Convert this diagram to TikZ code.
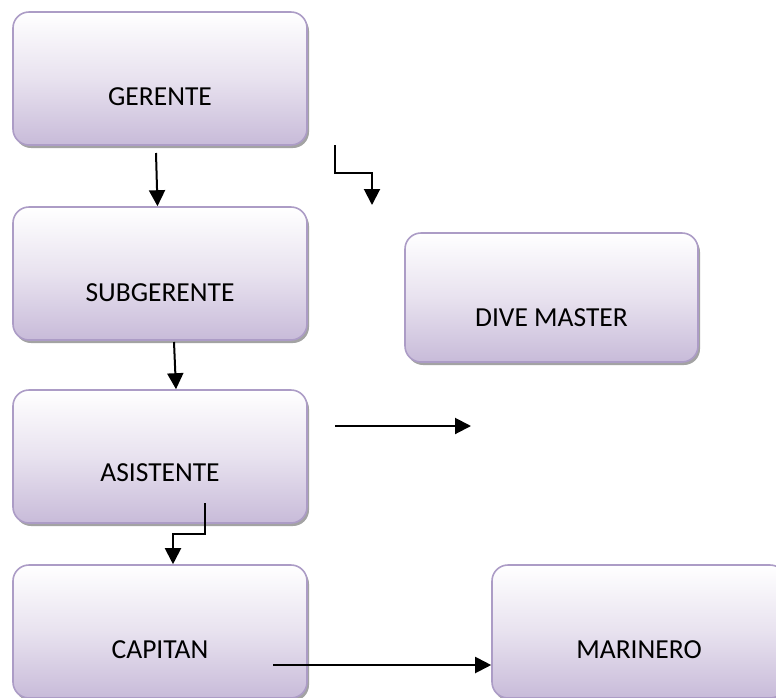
\documentclass[tikz,border=0pt]{standalone}
\usepackage{fontspec}
\setmainfont{Carlito}
\usetikzlibrary{arrows.meta,shadows,calc}
\definecolor{boxline}{HTML}{AC9CC6}
\definecolor{boxlow}{HTML}{C8BBD9}
\definecolor{boxmid}{HTML}{E8E2EF}
\begin{document}
\begin{tikzpicture}[x=1pt,y=-1pt,
  rolebox/.style={draw=boxline, line width=1.6pt, rounded corners=16pt,
    minimum width=294pt, minimum height=133pt, inner sep=0pt,
    top color=white, bottom color=boxlow, middle color=boxmid,
    drop shadow={shadow xshift=2pt, shadow yshift=-3pt, fill=black!45, opacity=0.8}},
  roletext/.style={font=\fontsize{27.5}{30}\selectfont, text=black},
  link/.style={line width=2pt, -{Triangle[length=16pt,width=16pt]}}]
\useasboundingbox (0,0) rectangle (776,697);
\begin{scope}
\clip (0,0) rectangle (776,697);
% boxes
\node[rolebox] (ger) at (160,78.5) {};
\node[rolebox] (sub) at (160,273.5) {};
\node[rolebox, minimum width=293pt, minimum height=129pt] (dive) at (551.5,297.5) {};
\node[rolebox] (asi) at (160,456.5) {};
\node[rolebox] (cap) at (160,631.5) {};
\node[rolebox] (mar) at (639,631.5) {};
% labels
\node[roletext] (gert) at (160,97) {GERENTE};
\node[roletext] (subt) at (160,293) {SUBGERENTE};
\node[roletext] (divet) at (551.5,318) {DIVE MASTER};
\node[roletext] (asit) at (160,473) {ASISTENTE};
\node[roletext] (capt) at (160,650) {CAPITAN};
\node[roletext] (mart) at (639,650) {MARINERO};
% connector ends
\coordinate (g1) at (156,153);
\coordinate (s1) at (174,342);
\coordinate (b1) at (335,145);
\coordinate (b2) at (372,205);
\coordinate (h1) at (335,426);
\coordinate (h2) at (471,426);
\coordinate (a1) at (205,503);
\coordinate (c1) at (273,665);
% connectors
\draw[link] (g1) -- ($(sub.north)+(-2.5,0)$);
\draw[link] (s1) -- ($(asi.north)+(16,0)$);
\draw[link] (b1) |- (372,173) -- (b2);
\draw[link] (h1) -- (h2);
\draw[link] (a1) -- (205,534) -| ($(cap.north)+(13,0)$);
\draw[link] (c1) -- (c1 -| mar.west);
\end{scope}
\end{tikzpicture}
\end{document}
